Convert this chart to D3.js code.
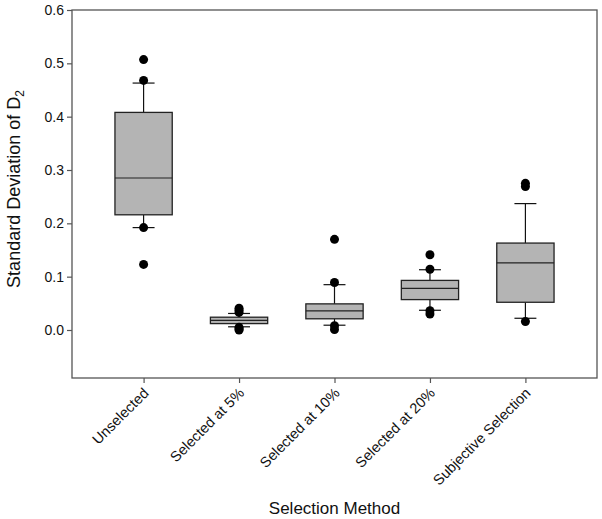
<!DOCTYPE html>
<html>
<head>
<meta charset="utf-8">
<script src="https://cdn.jsdelivr.net/npm/d3@7"></script>
<style>
  body { margin: 0; background: #fff; }
  text { font-family: "Liberation Sans", Arial, sans-serif; }
</style>
</head>
<body>
<svg id="chart" width="602" height="519"></svg>
<script>
// box summaries
let categories = ["Unselected", "Selected at 5%", "Selected at 10%", "Selected at 20%", "Subjective Selection"];
let q1 = [0.216, 0.012, 0.021, 0.057, 0.052];
let median = [0.285, 0.018, 0.036, 0.078, 0.126];
let q3 = [0.408, 0.024, 0.049, 0.093, 0.163];
let whiskerLow = [0.192, 0.006, 0.009, 0.037, 0.022];
let whiskerHigh = [0.463, 0.031, 0.085, 0.113, 0.237];
let outliers = [
	[0.507, 0.468, 0.192, 0.123],
	[0.041, 0.037, 0.033, 0.005, 0.002, 0.000],
	[0.170, 0.089, 0.008, 0.001],
	[0.141, 0.114, 0.036, 0.030],
	[0.275, 0.269, 0.016]
];
let yTicks = [0.0, 0.1, 0.2, 0.3, 0.4, 0.5, 0.6];

let svg = d3.select("#chart");
let mLeft = 72, mRight = 597, mTop = 10, mBottom = 378;

let x = d3.scalePoint()
	.domain(categories)
	.range([mLeft, mRight])
	.padding(0.75);
let y = d3.scaleLinear()
	.domain([-0.09, 0.6])
	.range([mBottom, mTop]);

let boxW = x.step() * 0.6;
let capW = x.step() * 0.23;

let boxes = categories.map((c, i) => ({
	cat: c, q1: q1[i], med: median[i], q3: q3[i],
	lo: whiskerLow[i], hi: whiskerHigh[i], out: outliers[i]
}));

// frame
svg.append("rect")
	.attr("x", mLeft).attr("y", mTop)
	.attr("width", mRight - mLeft).attr("height", mBottom - mTop)
	.attr("fill", "none").attr("stroke", "#555").attr("stroke-width", 1.3);

// y axis
let yAxis = svg.append("g")
	.attr("transform", `translate(${mLeft},0)`)
	.call(d3.axisLeft(y).tickValues(yTicks).tickFormat(d3.format(".1f")).tickSize(5).tickPadding(3));
yAxis.select(".domain").remove();
yAxis.selectAll("line").attr("stroke", "#555").attr("stroke-width", 1.2);
yAxis.selectAll("text").attr("font-size", 14).attr("fill", "#111")
	.attr("font-family", "Liberation Sans, Arial, sans-serif");

// x axis
let xAxis = svg.append("g")
	.attr("transform", `translate(0,${mBottom})`)
	.call(d3.axisBottom(x).tickSize(5).tickFormat(""));
xAxis.select(".domain").remove();
xAxis.selectAll("line").attr("stroke", "#555").attr("stroke-width", 1.2);

svg.append("g").selectAll("text")
	.data(categories)
	.enter().append("text")
	.attr("transform", d => `translate(${x(d) + 6},${mBottom + 16}) rotate(-45)`)
	.attr("text-anchor", "end")
	.attr("font-size", 14.5)
	.attr("fill", "#111")
	.text(d => d);

// boxes
let g = svg.append("g");
let bg = g.selectAll("g.box")
	.data(boxes)
	.enter().append("g").attr("class", "box");

bg.append("line")
	.attr("x1", d => x(d.cat)).attr("x2", d => x(d.cat))
	.attr("y1", d => y(d.q3)).attr("y2", d => y(d.hi))
	.attr("stroke", "#111").attr("stroke-width", 1.2);
bg.append("line")
	.attr("x1", d => x(d.cat)).attr("x2", d => x(d.cat))
	.attr("y1", d => y(d.q1)).attr("y2", d => y(d.lo))
	.attr("stroke", "#111").attr("stroke-width", 1.2);
bg.append("line")
	.attr("x1", d => x(d.cat) - capW / 2).attr("x2", d => x(d.cat) + capW / 2)
	.attr("y1", d => y(d.hi)).attr("y2", d => y(d.hi))
	.attr("stroke", "#111").attr("stroke-width", 1.2);
bg.append("line")
	.attr("x1", d => x(d.cat) - capW / 2).attr("x2", d => x(d.cat) + capW / 2)
	.attr("y1", d => y(d.lo)).attr("y2", d => y(d.lo))
	.attr("stroke", "#111").attr("stroke-width", 1.2);
bg.append("rect")
	.attr("x", d => x(d.cat) - boxW / 2)
	.attr("y", d => y(d.q3))
	.attr("width", boxW)
	.attr("height", d => y(d.q1) - y(d.q3))
	.attr("fill", "#b4b4b4").attr("stroke", "#222").attr("stroke-width", 1.3);
bg.append("line")
	.attr("x1", d => x(d.cat) - boxW / 2).attr("x2", d => x(d.cat) + boxW / 2)
	.attr("y1", d => y(d.med)).attr("y2", d => y(d.med))
	.attr("stroke", "#222").attr("stroke-width", 1.2);

bg.selectAll("circle")
	.data(d => d.out.map(v => ({cat: d.cat, v: v})))
	.enter().append("circle")
	.attr("cx", d => x(d.cat))
	.attr("cy", d => y(d.v))
	.attr("r", 4.5)
	.attr("fill", "#000");

// axis titles
svg.append("text")
	.attr("x", (mLeft + mRight) / 2).attr("y", 514)
	.attr("text-anchor", "middle")
	.attr("font-size", 17)
	.attr("fill", "#111")
	.text("Selection Method");

let yt = svg.append("text")
	.attr("transform", `translate(20,189) rotate(-90)`)
	.attr("text-anchor", "middle")
	.attr("font-size", 18)
	.attr("fill", "#111");
yt.append("tspan").text("Standard Deviation of D");
yt.append("tspan").attr("font-size", 12).attr("dy", 4).text("2");
</script>
</body>
</html>
